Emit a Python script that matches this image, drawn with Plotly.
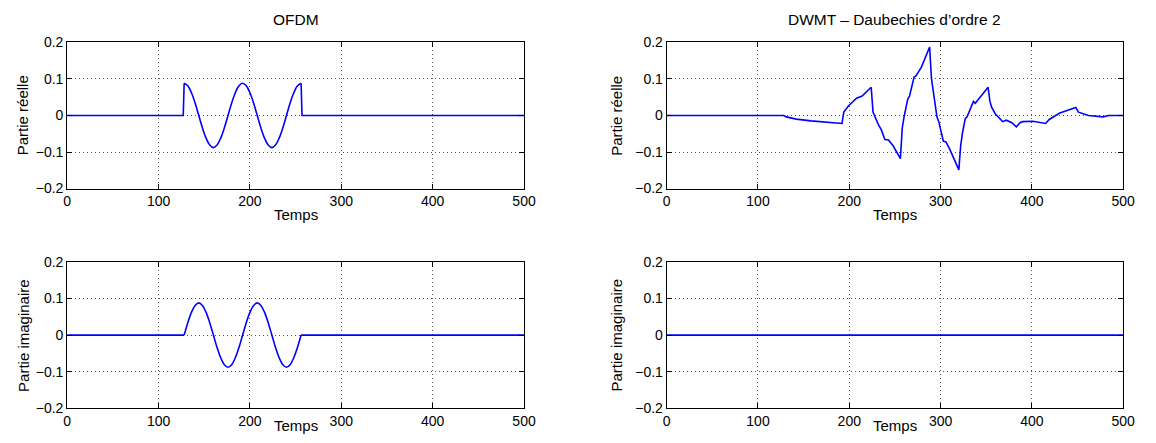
import plotly.graph_objects as go

# ---------------- data ----------------
# OFDM: samples of the active symbol (t = 128 .. 256)
ofdm_wave_t = [128, 132, 136, 140, 144, 148, 152, 156, 160, 164, 168, 172, 176, 180, 184, 188,
               192, 196, 200, 204, 208, 212, 216, 220, 224, 228, 232, 236, 240, 244, 248, 252, 256]
ofdm_real = [0.088, 0.081, 0.062, 0.034, 0.0, -0.034, -0.062, -0.081, -0.088, -0.081, -0.062, -0.034,
             0.0, 0.034, 0.062, 0.081, 0.088, 0.081, 0.062, 0.034, 0.0, -0.034, -0.062, -0.081,
             -0.088, -0.081, -0.062, -0.034, 0.0, 0.034, 0.062, 0.081, 0.088]
ofdm_imag = [0.0, 0.034, 0.062, 0.081, 0.088, 0.081, 0.062, 0.034, 0.0, -0.034, -0.062, -0.081,
             -0.088, -0.081, -0.062, -0.034, 0.0, 0.034, 0.062, 0.081, 0.088, 0.081, 0.062, 0.034,
             0.0, -0.034, -0.062, -0.081, -0.088, -0.081, -0.062, -0.034, 0.0]
# OFDM: silent parts before / after the symbol (including the jumps)
ofdm_real_pre_t = [0, 127, 128]
ofdm_real_pre_v = [0.0, 0.0, 0.088]
ofdm_real_post_t = [256, 257, 500]
ofdm_real_post_v = [0.088, 0.0, 0.0]
ofdm_imag_pre_t = [0, 128]
ofdm_imag_pre_v = [0.0, 0.0]
ofdm_imag_post_t = [256, 500]
ofdm_imag_post_v = [0.0, 0.0]

# DWMT - Daubechies order 2
dwmt_t = [0, 128, 131, 142, 158, 178, 192, 194, 199, 208, 214, 224, 226, 232, 235, 239, 243, 248, 256,
          258, 260, 264, 266, 271, 273, 279, 288, 290, 293, 296, 298, 303, 306, 310, 320, 322, 324,
          327, 329, 333, 336, 338, 343, 352, 354, 356, 360, 363, 368, 372, 378, 383, 387, 390, 401,
          415, 419, 430, 439, 448, 451, 462, 478, 484, 500]
dwmt_real = [0.0, 0.0, -0.004, -0.010, -0.015, -0.018, -0.022, 0.009, 0.026, 0.047, 0.053, 0.077,
             0.009, -0.026, -0.039, -0.066, -0.067, -0.083, -0.118, -0.035, -0.004, 0.044, 0.053,
             0.105, 0.108, 0.132, 0.187, 0.101, 0.044, -0.004, -0.017, -0.070, -0.073, -0.092,
             -0.149, -0.083, -0.048, -0.009, -0.004, 0.018, 0.038, 0.033, 0.048, 0.077, 0.039,
             0.022, 0.004, -0.003, -0.017, -0.013, -0.020, -0.031, -0.020, -0.017, -0.016, -0.022,
             -0.011, 0.006, 0.013, 0.022, 0.009, 0.0, -0.004, 0.0, 0.0]
dwmt_imag_t = [0, 500]
dwmt_imag = [0.0, 0.0]

x_ticks = [0, 100, 200, 300, 400, 500]
y_ticks = [-0.2, -0.1, 0, 0.1, 0.2]
y_ticktext = ["\u22120.2", "\u22120.1", "0", "0.1", "0.2"]

titles = ["OFDM", "DWMT \u2013 Daubechies d\u2019ordre 2"]
x_label = "Temps"
y_labels = ["Partie r\u00e9elle", "Partie imaginaire"]

# ---------------- figure ----------------
# The page body keeps its default 8px margin, so the figure is 16px smaller than the
# window and sits at (8, 8).  All pixel positions below are window positions.
WIN_W, WIN_H = 1156, 443
OFF = 8
W, H = WIN_W - 2 * OFF, WIN_H - 2 * OFF
FONT = "Liberation Sans, Arial, Helvetica, sans-serif"
BLUE = "#0000ff"
LW = 1.6

fig = go.Figure()

def line(x, y, xa, ya, shape="linear"):
    fig.add_trace(go.Scatter(x=x, y=y, mode="lines", xaxis=xa, yaxis=ya,
                             line=dict(color=BLUE, width=LW, shape=shape, smoothing=1.0),
                             hoverinfo="x+y", showlegend=False))

# top-left: OFDM real
line(ofdm_real_pre_t, ofdm_real_pre_v, "x", "y")
line(ofdm_wave_t, ofdm_real, "x", "y", "spline")
line(ofdm_real_post_t, ofdm_real_post_v, "x", "y")
# top-right: DWMT real
line(dwmt_t, dwmt_real, "x2", "y2")
# bottom-left: OFDM imag
line(ofdm_imag_pre_t, ofdm_imag_pre_v, "x3", "y3")
line(ofdm_wave_t, ofdm_imag, "x3", "y3", "spline")
line(ofdm_imag_post_t, ofdm_imag_post_v, "x3", "y3")
# bottom-right: DWMT imag
line(dwmt_imag_t, dwmt_imag, "x4", "y4")

# window-pixel geometry
left_px = (64, 527.3)
right_px = (672, 1135)
top_px = (35.3, 187.3)
bot_px = (263.5, 415.5)

def px(xw):
    return (xw - OFF) / W

def py(yw):
    return 1 - (yw - OFF) / H

def xd(p):
    return [px(p[0]), px(p[1])]

def yd(p):
    return [py(p[1]), py(p[0])]

tickfont = dict(family=FONT, size=14, color="black")
common = dict(showline=True, linecolor="black", linewidth=1, mirror="ticks",
              ticks="inside", ticklen=5, tickcolor="black", tickwidth=1,
              showgrid=True, gridcolor="#555555", gridwidth=1, griddash="1px,3px",
              zeroline=False, tickfont=tickfont, fixedrange=True)

panels = [("x", "y", left_px, top_px), ("x2", "y2", right_px, top_px),
          ("x3", "y3", left_px, bot_px), ("x4", "y4", right_px, bot_px)]
layout = {}
for xa, ya, xp, yp in panels:
    xkey = "xaxis" + xa[1:]
    ykey = "yaxis" + ya[1:]
    layout[xkey] = dict(domain=xd(xp), anchor=ya, range=[0, 500],
                        tickmode="array", tickvals=x_ticks, **common)
    layout[ykey] = dict(domain=yd(yp), anchor=xa, range=[-0.2, 0.2],
                        tickmode="array", tickvals=y_ticks, ticktext=y_ticktext, **common)

annotations = []
# titles
for i, xp in enumerate([left_px, right_px]):
    annotations.append(dict(text=titles[i], x=px((xp[0] + xp[1]) / 2), y=py(12),
                            xref="paper", yref="paper", showarrow=False,
                            xanchor="center", yanchor="middle",
                            font=dict(family=FONT, size=15.5, color="black")))
# x labels
for xp in [left_px, right_px]:
    for ypx in [214, 433]:
        annotations.append(dict(text=x_label, x=px((xp[0] + xp[1]) / 2), y=py(ypx),
                                xref="paper", yref="paper", showarrow=False,
                                xanchor="center", yanchor="middle",
                                font=dict(family=FONT, size=15, color="black")))
# y labels
for xpx in [19, 621]:
    for j, yp in enumerate([top_px, bot_px]):
        annotations.append(dict(text=y_labels[j], x=px(xpx), y=py((yp[0] + yp[1]) / 2),
                                xref="paper", yref="paper", showarrow=False, textangle=-90,
                                xanchor="center", yanchor="middle",
                                font=dict(family=FONT, size=15, color="black")))

fig.update_layout(width=W, height=H, autosize=False, margin=dict(l=0, r=0, t=0, b=0),
                  paper_bgcolor="white", plot_bgcolor="white",
                  showlegend=False, annotations=annotations, **layout)

fig.write_html("out.html",
               config={"responsive": False, "displayModeBar": False, "staticPlot": True})
